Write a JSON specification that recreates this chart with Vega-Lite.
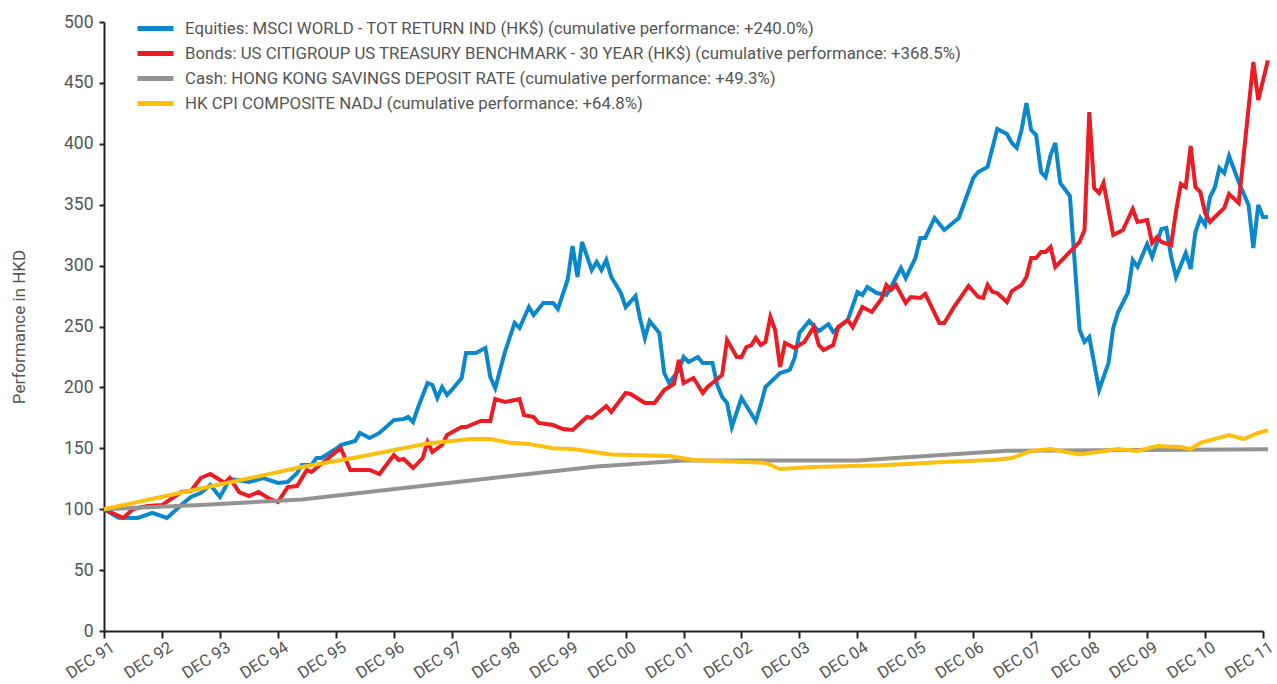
{
  "$schema": "https://vega.github.io/schema/vega-lite/v6.json",
  "width": 1159,
  "height": 609,
  "padding": {"left": 104, "top": 22, "right": 14, "bottom": 53},
  "autosize": {"type": "none"},
  "background": "white",
  "config": {
    "view": {"stroke": null},
    "font": "Roboto",
    "axis": {"labelFont": "Roboto", "titleFont": "Roboto", "labelColor": "#555", "titleColor": "#555", "domainColor": "#222", "tickColor": "#222", "domainWidth": 2, "tickWidth": 2, "grid": false},
    "legend": {"labelFont": "Roboto"}
  },
  "layer": [
    {
      "data": {"values": [
        {"date":"1991-12-01","value":100},{"date":"1992-03-01","value":93.0},{"date":"1992-07-01","value":92.8},{"date":"1992-10-01","value":96.9},
        {"date":"1993-01-01","value":92.8},{"date":"1993-04-01","value":103.4},{"date":"1993-06-01","value":110},{"date":"1993-08-01","value":113.3},
        {"date":"1993-10-01","value":119.9},{"date":"1993-12-01","value":110},{"date":"1994-02-01","value":124.8},{"date":"1994-06-01","value":122.3},
        {"date":"1994-09-01","value":125.6},{"date":"1994-12-01","value":121.5},{"date":"1995-02-01","value":122.3},{"date":"1995-04-01","value":129.7},
        {"date":"1995-05-01","value":136.3},{"date":"1995-07-01","value":136.3},{"date":"1995-08-01","value":142},{"date":"1995-09-01","value":142},
        {"date":"1995-12-01","value":149.4},{"date":"1996-01-01","value":152.7},{"date":"1996-04-01","value":156},{"date":"1996-05-01","value":162.6},
        {"date":"1996-07-01","value":158.5},{"date":"1996-09-01","value":162.6},{"date":"1996-12-01","value":173.2},{"date":"1997-02-01","value":174.1},
        {"date":"1997-03-01","value":175.7},{"date":"1997-04-01","value":171.6},{"date":"1997-05-01","value":183.1},{"date":"1997-07-01","value":203.6},
        {"date":"1997-08-01","value":202},{"date":"1997-09-01","value":191.3},{"date":"1997-10-01","value":200.3},{"date":"1997-11-01","value":193.8},
        {"date":"1997-12-01","value":197.9},{"date":"1998-02-01","value":207.7},{"date":"1998-03-01","value":228.2},{"date":"1998-05-01","value":228.2},
        {"date":"1998-07-01","value":232.3},{"date":"1998-08-01","value":208.5},{"date":"1998-09-01","value":199.5},{"date":"1998-11-01","value":229.1},
        {"date":"1999-01-01","value":252.9},{"date":"1999-02-01","value":248.8},{"date":"1999-04-01","value":266},{"date":"1999-05-01","value":259.4},
        {"date":"1999-07-01","value":269.3},{"date":"1999-09-01","value":269.3},{"date":"1999-10-01","value":264.4},{"date":"1999-12-01","value":288.2},
        {"date":"2000-01-01","value":316.1},{"date":"2000-02-01","value":290.6},{"date":"2000-03-01","value":319.4},{"date":"2000-05-01","value":296.4},
        {"date":"2000-06-01","value":303},{"date":"2000-07-01","value":296.4},{"date":"2000-08-01","value":304.6},{"date":"2000-09-01","value":290.6},
        {"date":"2000-11-01","value":277.5},{"date":"2000-12-01","value":266},{"date":"2001-02-01","value":275},{"date":"2001-03-01","value":257},
        {"date":"2001-04-01","value":240.6},{"date":"2001-05-01","value":254.5},{"date":"2001-07-01","value":244.7},{"date":"2001-08-01","value":211.8},
        {"date":"2001-09-01","value":203.6},{"date":"2001-11-01","value":214.3},{"date":"2001-12-01","value":225},{"date":"2002-01-01","value":220.9},
        {"date":"2002-03-01","value":225},{"date":"2002-04-01","value":220},{"date":"2002-06-01","value":220},{"date":"2002-07-01","value":202},
        {"date":"2002-08-01","value":192.1},{"date":"2002-09-01","value":187.2},{"date":"2002-10-01","value":167.5},{"date":"2002-12-01","value":191.3},
        {"date":"2003-03-01","value":172.4},{"date":"2003-04-01","value":185.6},{"date":"2003-05-01","value":200.3},{"date":"2003-08-01","value":211.8},
        {"date":"2003-10-01","value":214.3},{"date":"2003-11-01","value":224.1},{"date":"2003-12-01","value":244.7},{"date":"2004-02-01","value":254.5},
        {"date":"2004-04-01","value":246.3},{"date":"2004-06-01","value":252},{"date":"2004-07-01","value":245.5},{"date":"2004-10-01","value":255.3},
        {"date":"2004-12-01","value":278.3},{"date":"2005-01-01","value":275.9},{"date":"2005-02-01","value":282.4},{"date":"2005-04-01","value":277.5},
        {"date":"2005-06-01","value":275.9},{"date":"2005-07-01","value":282.4},{"date":"2005-09-01","value":298},{"date":"2005-10-01","value":289.8},
        {"date":"2005-12-01","value":306.2},{"date":"2006-01-01","value":322.7},{"date":"2006-02-01","value":322.7},{"date":"2006-04-01","value":339.1},
        {"date":"2006-06-01","value":329.2},{"date":"2006-09-01","value":339.1},{"date":"2006-12-01","value":371.9},{"date":"2007-01-01","value":376.8},
        {"date":"2007-03-01","value":381},{"date":"2007-05-01","value":412.2},{"date":"2007-07-01","value":408},{"date":"2007-08-01","value":400.7},
        {"date":"2007-09-01","value":396.6},{"date":"2007-10-01","value":411.3},{"date":"2007-11-01","value":433.5},{"date":"2007-12-01","value":411.3},
        {"date":"2008-01-01","value":407.2},{"date":"2008-02-01","value":376.8},{"date":"2008-03-01","value":372.7},{"date":"2008-04-01","value":390.8},
        {"date":"2008-05-01","value":400.7},{"date":"2008-06-01","value":367.8},{"date":"2008-08-01","value":357.1},{"date":"2008-10-01","value":247.1},
        {"date":"2008-11-01","value":237.3},{"date":"2008-12-01","value":241.4},{"date":"2009-02-01","value":197.9},{"date":"2009-04-01","value":220},
        {"date":"2009-05-01","value":248.8},{"date":"2009-06-01","value":261.9},{"date":"2009-08-01","value":277.5},{"date":"2009-09-01","value":304.6},
        {"date":"2009-10-01","value":298.9},{"date":"2009-12-01","value":317.7},{"date":"2010-01-01","value":307.1},{"date":"2010-03-01","value":330},
        {"date":"2010-04-01","value":330.9},{"date":"2010-05-01","value":307.1},{"date":"2010-06-01","value":290.6},{"date":"2010-08-01","value":310.3},
        {"date":"2010-09-01","value":297.2},{"date":"2010-10-01","value":327.6},{"date":"2010-11-01","value":339.1},{"date":"2010-12-01","value":333.3},
        {"date":"2011-01-01","value":356.3},{"date":"2011-02-01","value":364.5},{"date":"2011-03-01","value":380.1},{"date":"2011-04-01","value":376},
        {"date":"2011-05-01","value":390},{"date":"2011-07-01","value":368.6},{"date":"2011-09-01","value":349.8},{"date":"2011-10-01","value":314.4},
        {"date":"2011-11-01","value":349.8},{"date":"2011-12-01","value":339.9},{"date":"2012-01-01","value":340}
      ]},
      "mark": {"type": "line", "strokeWidth": 4, "strokeJoin": "miter"},
      "encoding": {
        "x": {"field": "date", "type": "temporal", "scale": {"type": "utc", "domain": [{"year":1991,"month":12,"date":1,"utc":true},{"year":2011,"month":12,"date":1,"utc":true}]},
          "title": null,
          "axis": {"values": [
            {"year":1991,"month":12,"date":1,"utc":true},{"year":1992,"month":12,"date":1,"utc":true},{"year":1993,"month":12,"date":1,"utc":true},{"year":1994,"month":12,"date":1,"utc":true},
            {"year":1995,"month":12,"date":1,"utc":true},{"year":1996,"month":12,"date":1,"utc":true},{"year":1997,"month":12,"date":1,"utc":true},{"year":1998,"month":12,"date":1,"utc":true},
            {"year":1999,"month":12,"date":1,"utc":true},{"year":2000,"month":12,"date":1,"utc":true},{"year":2001,"month":12,"date":1,"utc":true},{"year":2002,"month":12,"date":1,"utc":true},
            {"year":2003,"month":12,"date":1,"utc":true},{"year":2004,"month":12,"date":1,"utc":true},{"year":2005,"month":12,"date":1,"utc":true},{"year":2006,"month":12,"date":1,"utc":true},
            {"year":2007,"month":12,"date":1,"utc":true},{"year":2008,"month":12,"date":1,"utc":true},{"year":2009,"month":12,"date":1,"utc":true},{"year":2010,"month":12,"date":1,"utc":true},
            {"year":2011,"month":12,"date":1,"utc":true}],
            "labelExpr": "'DEC ' + utcFormat(datum.value, '%y')",
            "labelAngle": -33, "labelAlign": "center", "labelBaseline": "middle", "labelOffset": -14, "labelFontSize": 16.5, "tickSize": 7, "labelPadding": 22, "labelOverlap": false, "labelBound": false, "labelFlush": false}},
        "y": {"field": "value", "type": "quantitative", "scale": {"domain": [0, 500], "nice": false}, "title": "Performance in HKD",
          "axis": {"values": [0,50,100,150,200,250,300,350,400,450,500], "labelFontSize": 17.5, "titleFontSize": 17, "titleFontWeight": "normal", "tickSize": 5, "labelPadding": 6, "titlePadding": 35}},
        "color": {"datum": "Equities: MSCI WORLD - TOT RETURN IND (HK$) (cumulative performance: +240.0%)", "type": "nominal",
          "scale": {"domain": [
            "Equities: MSCI WORLD - TOT RETURN IND (HK$) (cumulative performance: +240.0%)",
            "Bonds: US CITIGROUP US TREASURY BENCHMARK - 30 YEAR (HK$) (cumulative performance: +368.5%)",
            "Cash: HONG KONG SAVINGS DEPOSIT RATE (cumulative performance: +49.3%)",
            "HK CPI COMPOSITE NADJ (cumulative performance: +64.8%)"],
            "range": ["#0a88cc", "#ec1c24", "#939393", "#fdc010"]},
          "legend": {"title": null, "orient": "none", "legendX": 40, "legendY": -5, "padding": 0, "symbolType": "M-2,0H2", "symbolStrokeWidth": 5, "symbolSize": 324, "labelFontSize": 16.8, "labelColor": "#555", "labelOffset": 18, "rowPadding": 3, "labelLimit": 1000}}
      }
    },
    {
      "data": {"values": [
        {"date":"1991-12-01","value":100},{"date":"1992-04-01","value":92.8},{"date":"1992-06-01","value":100.2},{"date":"1992-09-01","value":102.6},
        {"date":"1992-12-01","value":103.4},{"date":"1993-04-01","value":114.1},{"date":"1993-06-01","value":114.9},{"date":"1993-08-01","value":125.6},
        {"date":"1993-10-01","value":128.9},{"date":"1994-01-01","value":121.5},{"date":"1994-02-01","value":125.6},{"date":"1994-04-01","value":114.1},
        {"date":"1994-06-01","value":110.8},{"date":"1994-08-01","value":114.1},{"date":"1994-10-01","value":109.2},{"date":"1994-12-01","value":105.9},
        {"date":"1995-02-01","value":118.2},{"date":"1995-04-01","value":119},{"date":"1995-06-01","value":132.2},{"date":"1995-07-01","value":130.5},
        {"date":"1995-10-01","value":140.4},{"date":"1996-01-01","value":150.2},{"date":"1996-03-01","value":132.2},{"date":"1996-07-01","value":132.2},
        {"date":"1996-09-01","value":128.9},{"date":"1996-12-01","value":144.5},{"date":"1997-01-01","value":140.4},{"date":"1997-02-01","value":141.2},
        {"date":"1997-04-01","value":133.8},{"date":"1997-06-01","value":142},{"date":"1997-07-01","value":155.2},{"date":"1997-08-01","value":147},
        {"date":"1997-10-01","value":152.7},{"date":"1997-11-01","value":160.9},{"date":"1998-02-01","value":167.5},{"date":"1998-03-01","value":167.5},
        {"date":"1998-06-01","value":172.4},{"date":"1998-08-01","value":172.4},{"date":"1998-09-01","value":190.5},{"date":"1998-11-01","value":188},
        {"date":"1999-02-01","value":190.5},{"date":"1999-03-01","value":177.3},{"date":"1999-05-01","value":175.7},{"date":"1999-06-01","value":170.8},
        {"date":"1999-09-01","value":169.1},{"date":"1999-11-01","value":165.8},{"date":"2000-01-01","value":165},{"date":"2000-04-01","value":175.7},
        {"date":"2000-05-01","value":174.9},{"date":"2000-08-01","value":184.7},{"date":"2000-09-01","value":179.8},{"date":"2000-12-01","value":195.4},
        {"date":"2001-01-01","value":194.6},{"date":"2001-04-01","value":187.2},{"date":"2001-06-01","value":187.2},{"date":"2001-08-01","value":197.9},
        {"date":"2001-10-01","value":202.8},{"date":"2001-11-01","value":222.5},{"date":"2001-12-01","value":203.6},{"date":"2002-02-01","value":207.7},
        {"date":"2002-03-01","value":202},{"date":"2002-04-01","value":195.4},{"date":"2002-05-01","value":200.3},{"date":"2002-06-01","value":203.6},
        {"date":"2002-08-01","value":210.2},{"date":"2002-09-01","value":238.9},{"date":"2002-11-01","value":225},{"date":"2002-12-01","value":225},
        {"date":"2003-01-01","value":233.2},{"date":"2003-02-01","value":234.8},{"date":"2003-03-01","value":240.6},{"date":"2003-04-01","value":234.8},
        {"date":"2003-05-01","value":237.3},{"date":"2003-06-01","value":257.8},{"date":"2003-07-01","value":247.1},{"date":"2003-08-01","value":216.7},
        {"date":"2003-09-01","value":236.5},{"date":"2003-11-01","value":232.3},{"date":"2004-01-01","value":237.3},{"date":"2004-03-01","value":249.6},
        {"date":"2004-04-01","value":234.8},{"date":"2004-05-01","value":230.7},{"date":"2004-07-01","value":234.8},{"date":"2004-08-01","value":249.6},
        {"date":"2004-10-01","value":255.3},{"date":"2004-11-01","value":249.6},{"date":"2005-01-01","value":266},{"date":"2005-03-01","value":261.9},
        {"date":"2005-05-01","value":272.6},{"date":"2005-06-01","value":284.1},{"date":"2005-07-01","value":280},{"date":"2005-08-01","value":284.1},
        {"date":"2005-10-01","value":269.3},{"date":"2005-11-01","value":274.2},{"date":"2006-01-01","value":273.4},{"date":"2006-02-01","value":276.7},
        {"date":"2006-05-01","value":252.9},{"date":"2006-06-01","value":252.9},{"date":"2006-08-01","value":266},{"date":"2006-11-01","value":283.3},
        {"date":"2007-01-01","value":274.2},{"date":"2007-02-01","value":273.4},{"date":"2007-03-01","value":284.1},{"date":"2007-04-01","value":278.3},
        {"date":"2007-05-01","value":277.5},{"date":"2007-07-01","value":270.1},{"date":"2007-08-01","value":279.1},{"date":"2007-10-01","value":284.1},
        {"date":"2007-11-01","value":290.6},{"date":"2007-12-01","value":306.2},{"date":"2008-01-01","value":306.2},{"date":"2008-02-01","value":311.2},
        {"date":"2008-03-01","value":311.2},{"date":"2008-04-01","value":315.3},{"date":"2008-05-01","value":298.9},{"date":"2008-07-01","value":307.1},
        {"date":"2008-10-01","value":319.4},{"date":"2008-11-01","value":329.2},{"date":"2008-12-01","value":426.1},{"date":"2009-01-01","value":363.7},
        {"date":"2009-02-01","value":359.6},{"date":"2009-03-01","value":367.8},{"date":"2009-05-01","value":325.1},{"date":"2009-07-01","value":329.2},
        {"date":"2009-09-01","value":346.5},{"date":"2009-10-01","value":335.8},{"date":"2009-12-01","value":337.4},{"date":"2010-01-01","value":318.6},
        {"date":"2010-02-01","value":323.5},{"date":"2010-03-01","value":319.4},{"date":"2010-05-01","value":316.9},{"date":"2010-06-01","value":344.8},
        {"date":"2010-07-01","value":367},{"date":"2010-08-01","value":364.5},{"date":"2010-09-01","value":398.2},{"date":"2010-10-01","value":364.5},
        {"date":"2010-11-01","value":360.4},{"date":"2010-12-01","value":343.2},{"date":"2011-01-01","value":335.8},{"date":"2011-02-01","value":339.9},
        {"date":"2011-04-01","value":347.3},{"date":"2011-05-01","value":358.8},{"date":"2011-07-01","value":351.4},{"date":"2011-10-01","value":467.2},
        {"date":"2011-11-01","value":436},{"date":"2012-01-01","value":468.5}
      ]},
      "mark": {"type": "line", "strokeWidth": 4, "strokeJoin": "miter"},
      "encoding": {
        "x": {"field": "date", "type": "temporal"},
        "y": {"field": "value", "type": "quantitative"},
        "color": {"datum": "Bonds: US CITIGROUP US TREASURY BENCHMARK - 30 YEAR (HK$) (cumulative performance: +368.5%)", "type": "nominal"}
      }
    },
    {
      "data": {"values": [
        {"date":"1991-12-01","value":100},{"date":"1993-08-01","value":103.5},{"date":"1995-05-01","value":108},{"date":"1998-08-01","value":125.5},
        {"date":"2000-06-01","value":135},{"date":"2001-12-01","value":140},{"date":"2004-12-01","value":140},{"date":"2007-07-01","value":148},
        {"date":"2012-01-01","value":149.3}
      ]},
      "mark": {"type": "line", "strokeWidth": 4},
      "encoding": {
        "x": {"field": "date", "type": "temporal"},
        "y": {"field": "value", "type": "quantitative"},
        "color": {"datum": "Cash: HONG KONG SAVINGS DEPOSIT RATE (cumulative performance: +49.3%)", "type": "nominal"}
      }
    },
    {
      "data": {"values": [
        {"date":"1991-12-01","value":100},{"date":"1993-08-01","value":117},{"date":"1995-05-01","value":134.6},{"date":"1996-05-01","value":143},
        {"date":"1997-07-01","value":154},{"date":"1998-04-01","value":157.6},{"date":"1998-08-01","value":157.6},{"date":"1998-12-01","value":154.5},
        {"date":"1999-04-01","value":153.5},{"date":"1999-09-01","value":150},{"date":"2000-01-01","value":149.5},{"date":"2000-09-01","value":145},
        {"date":"2001-09-01","value":143.7},{"date":"2002-02-01","value":140.4},{"date":"2003-05-01","value":138},{"date":"2003-08-01","value":133},
        {"date":"2004-03-01","value":134.6},{"date":"2005-05-01","value":136},{"date":"2006-07-01","value":139},{"date":"2007-04-01","value":140.4},
        {"date":"2007-08-01","value":142},{"date":"2007-12-01","value":147.8},{"date":"2008-04-01","value":149.4},{"date":"2008-10-01","value":145},
        {"date":"2009-06-01","value":149.4},{"date":"2009-10-01","value":147.8},{"date":"2010-02-01","value":151.9},{"date":"2010-07-01","value":151},
        {"date":"2010-09-01","value":149.4},{"date":"2010-11-01","value":154.4},{"date":"2011-05-01","value":160.9},{"date":"2011-08-01","value":157.6},
        {"date":"2011-11-01","value":162.6},{"date":"2012-01-01","value":164.8}
      ]},
      "mark": {"type": "line", "strokeWidth": 4},
      "encoding": {
        "x": {"field": "date", "type": "temporal"},
        "y": {"field": "value", "type": "quantitative"},
        "color": {"datum": "HK CPI COMPOSITE NADJ (cumulative performance: +64.8%)", "type": "nominal"}
      }
    }
  ]
}
